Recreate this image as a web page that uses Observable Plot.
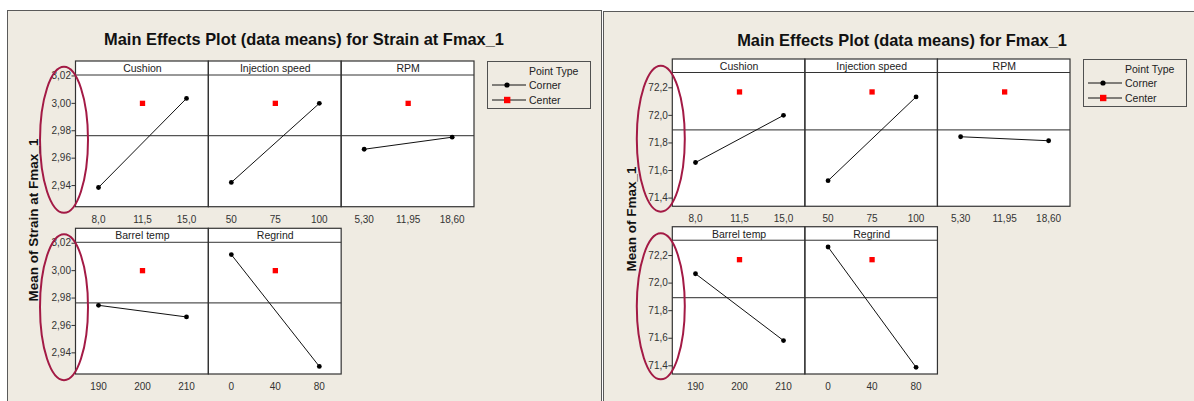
<!DOCTYPE html>
<html><head><meta charset="utf-8">
<script src="https://cdn.jsdelivr.net/npm/d3@7"></script>
<script src="https://cdn.jsdelivr.net/npm/@observablehq/plot@0.6"></script>
<style>
  html,body{margin:0;padding:0;background:#fff;}
  body{width:1194px;height:401px;overflow:hidden;position:relative;font-family:"Liberation Sans",Arial,sans-serif;}
  .box{position:absolute;background:#EFEBE2;border:1px solid #5a5a5a;box-sizing:border-box;}
  .chart{position:absolute;top:0;}
  .title{position:absolute;font-weight:bold;font-size:16.4px;color:#111;white-space:nowrap;transform:translate(-50%,-50%);}
  .ytitle{position:absolute;font-weight:bold;font-size:13.5px;color:#111;white-space:nowrap;transform:translate(-50%,-50%) rotate(-90deg);}
  .legend{position:absolute;border:1.3px solid #505050;box-sizing:border-box;width:104px;height:48px;font-size:10.5px;color:#222;}
</style></head>
<body>
<div class="box" style="left:7px;top:10px;width:595px;height:420px"></div>
<div class="box" style="left:603px;top:11px;width:600px;height:420px"></div>
<script>
// ---------------- data ----------------
const factors = ["Cushion", "Injection speed", "RPM", "Barrel temp", "Regrind"];
const panelRow = [0, 0, 0, 1, 1];
const panelCol = [0, 1, 2, 0, 1];
const levels = ["lo", "mid", "hi"];
const levelLabels = [
  ["8,0", "11,5", "15,0"],
  ["50", "75", "100"],
  ["5,30", "11,95", "18,60"],
  ["190", "200", "210"],
  ["0", "40", "80"]
];
// Strain at Fmax_1 (left chart)
const strainLow    = [2.9386, 2.9423, 2.9665, 2.9747, 3.0117];
const strainHigh   = [3.0036, 3.0000, 2.9753, 2.9662, 2.9301];
const strainCenter = 3.000;
const strainMean   = 2.9765;
const strainTicks  = [2.94, 2.96, 2.98, 3.00, 3.02];
// Fmax_1 (right chart)
const fmaxLow    = [71.658, 71.526, 71.845, 72.068, 72.262];
const fmaxHigh   = [72.000, 72.134, 71.816, 71.583, 71.389];
const fmaxCenter = 72.17;
const fmaxMean   = 71.895;
const fmaxTicks  = [71.4, 71.6, 71.8, 72.0, 72.2];
const legendTitle = "Point Type";
const legendItems = ["Corner", "Center"];
const titles = ["Main Effects Plot (data means) for Strain at Fmax_1", "Main Effects Plot (data means) for Fmax_1"];
const yTitles = ["Mean of Strain at Fmax_1", "Mean of Fmax_1"];

// ---------------- layout config ----------------
const configs = [
  {left: 0, width: 603, marginLeft: 75.5, marginRight: 129, marginTop: 61, marginBottom: 27,
   pI: 0.129, strip: 13.5, domain: [2.9242, 3.0207], low: strainLow, high: strainHigh,
   center: strainCenter, mean: strainMean, ticks: strainTicks, decimals: 2,
   title: titles[0], titleX: 304, titleY: 39, yTitle: yTitles[0], yTitleX: 32.5, yTitleY: 220,
   legendX: 487, legendY: 60.5},
  {left: 603, width: 591, marginLeft: 69.3, marginRight: 124, marginTop: 59, marginBottom: 27,
   pI: 0.122, strip: 13, domain: [71.337, 72.311], low: fmaxLow, high: fmaxHigh,
   center: fmaxCenter, mean: fmaxMean, ticks: fmaxTicks, decimals: 1,
   title: titles[1], titleX: 902, titleY: 40, yTitle: yTitles[1], yTitleX: 631, yTitleY: 219,
   legendX: 1083, legendY: 58.5}
];

function build(cfg) {
  const panels = factors.map((f, i) => ({name: f, row: panelRow[i], col: panelCol[i]}));
  const corner = factors.flatMap((f, i) => [
    {name: f, row: panelRow[i], col: panelCol[i], level: "lo", value: cfg.low[i]},
    {name: f, row: panelRow[i], col: panelCol[i], level: "hi", value: cfg.high[i]}
  ]);
  const center = panels.map(p => ({...p, level: "mid", value: cfg.center}));
  const tickLabels = factors.flatMap((f, i) => levels.map((l, j) => ({name: f, row: panelRow[i], col: panelCol[i], level: l, label: levelLabels[i][j]})));
  const fmt = d => d.toFixed(cfg.decimals).replace(".", ",");
  const F = {fx: "col", fy: "row"};

  const chart = Plot.plot({
    width: cfg.width, height: 401,
    marginLeft: cfg.marginLeft, marginRight: cfg.marginRight,
    marginTop: cfg.marginTop, marginBottom: cfg.marginBottom,
    style: {background: "transparent", fontFamily: "'Liberation Sans', Arial, sans-serif", color: "#222", overflow: "visible"},
    fx: {domain: [0, 1, 2], axis: null, paddingInner: 0, paddingOuter: 0, round: false},
    fy: {domain: [0, 1], axis: null, paddingInner: cfg.pI, paddingOuter: 0, round: false},
    x: {type: "point", domain: levels, padding: 0.5, axis: null},
    y: {domain: cfg.domain, insetTop: cfg.strip},
    marks: [
      Plot.rect(panels, {...F, fill: "white"}),
      Plot.ruleY(panels, {...F, y: () => cfg.domain[1], stroke: "#333", strokeWidth: 1}),
      Plot.ruleY(panels, {...F, y: () => cfg.mean, stroke: "#555", strokeWidth: 1.3}),
      Plot.line(corner, {...F, x: "level", y: "value", z: "name", stroke: "#111", strokeWidth: 1}),
      Plot.dot(corner, {...F, x: "level", y: "value", r: 2.4, fill: "#000", stroke: "none"}),
      Plot.dot(center, {...F, x: "level", y: "value", symbol: "square", r: 3, fill: "#f00", stroke: "none"}),
      Plot.rect(panels, {...F, fill: "none", stroke: "#333", strokeWidth: 1.2}),
      Plot.text(panels, {...F, text: "name", frameAnchor: "top", lineAnchor: "middle", dy: cfg.strip / 2 + 0.5, fontSize: 10.5, fill: "#222"}),
      Plot.text(tickLabels, {...F, x: "level", text: "label", frameAnchor: "bottom", lineAnchor: "middle", dy: 12.5, fontSize: 10, fill: "#333"}),
      Plot.axisY({ticks: cfg.ticks, tickFormat: fmt, tickSize: 4, tickPadding: 1, fontSize: 10, label: null, anchor: "left", color: "#333"})
    ]
  });

  // red annotation ellipses around the y axes, placed via the facet scale
  const fy = chart.scale("fy");
  const svg = d3.select(chart);
  [0, 1].forEach(r => {
    svg.append("ellipse")
      .attr("cx", cfg.marginLeft - 11.5)
      .attr("cy", fy.apply(r) + fy.bandwidth / 2 + 6)
      .attr("rx", 24).attr("ry", 73)
      .attr("fill", "none").attr("stroke", "#A31A45").attr("stroke-width", 2);
  });

  const wrap = document.createElement("div");
  wrap.className = "chart";
  wrap.style.left = cfg.left + "px";
  wrap.appendChild(chart);
  document.body.appendChild(wrap);

  const t = document.createElement("div");
  t.className = "title"; t.textContent = cfg.title;
  t.style.left = cfg.titleX + "px"; t.style.top = cfg.titleY + "px";
  document.body.appendChild(t);

  const yt = document.createElement("div");
  yt.className = "ytitle"; yt.textContent = cfg.yTitle;
  yt.style.left = cfg.yTitleX + "px"; yt.style.top = cfg.yTitleY + "px";
  document.body.appendChild(yt);

  // legend
  const lg = document.createElement("div");
  lg.className = "legend";
  lg.style.left = cfg.legendX + "px"; lg.style.top = cfg.legendY + "px";
  const ls = d3.create("svg").attr("width", 104).attr("height", 48).style("position", "absolute").style("left", "-1px").style("top", "-1px").style("overflow", "visible");
  ls.append("text").attr("x", 42).attr("y", 10.5).attr("dy", "0.35em").attr("font-size", 10.5).attr("fill", "#222").text(legendTitle);
  legendItems.forEach((name, i) => {
    const y = 24 + i * 15;
    ls.append("line").attr("x1", 5).attr("x2", 39).attr("y1", y).attr("y2", y).attr("stroke", "#111");
    if (i === 0) ls.append("circle").attr("cx", 20).attr("cy", y).attr("r", 2.6).attr("fill", "#000");
    else ls.append("rect").attr("x", 17).attr("y", y - 3.2).attr("width", 6.4).attr("height", 6.4).attr("fill", "#f00");
    ls.append("text").attr("x", 42).attr("y", y).attr("dy", "0.35em").attr("font-size", 10.5).attr("fill", "#222").text(name);
  });
  lg.appendChild(ls.node());
  document.body.appendChild(lg);
}

configs.forEach(build);
</script>
</body></html>
